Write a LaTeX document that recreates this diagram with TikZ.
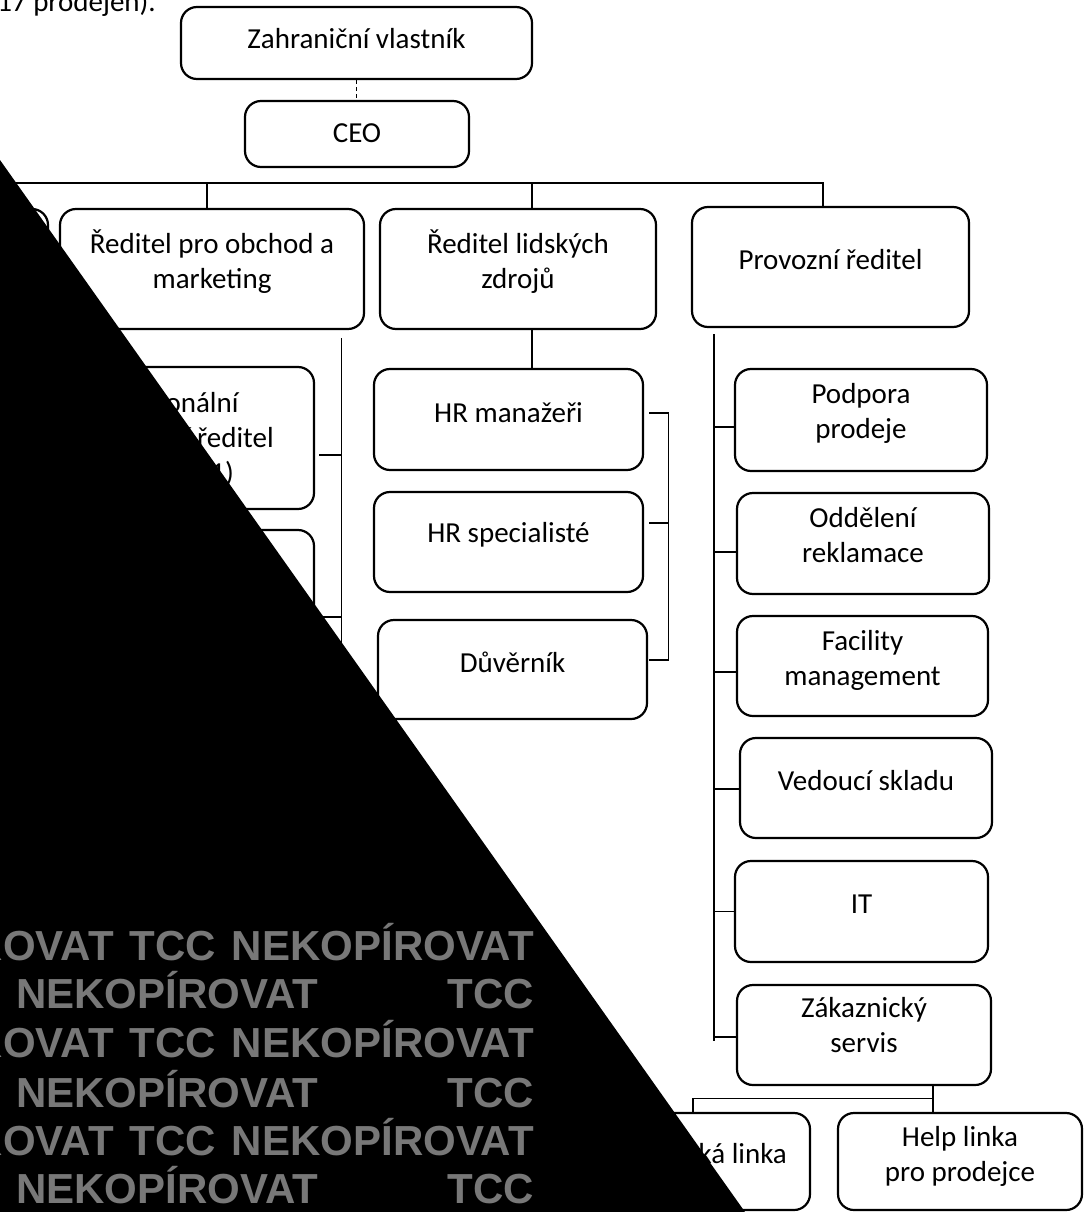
\documentclass[tikz,border=0pt]{standalone}
\usepackage{fontspec}
\setmainfont{Carlito}
\newfontfamily\wmfont{Liberation Sans}
\usetikzlibrary{positioning}
\definecolor{wmgray}{gray}{0.47}

\begin{document}
\begin{tikzpicture}[x=1pt,y=-1pt,
  box/.style={draw=black,rounded corners=16,line width=2.2,inner sep=0},
  txt/.style={align=center,inner sep=0,font=\fontsize{29}{35}\selectfont},
  link/.style={draw=black,line width=1.2},
  wm/.style={text=wmgray,inner sep=0,font=\wmfont\bfseries\fontsize{42}{48}\selectfont}]

\clip (0,0) rectangle (1088,1212);

% top of the chart
\node[txt,anchor=base east] (prev) at (156,12) {17 prodejen).};
\node[box,minimum width=351,minimum height=72,label={[txt,yshift=4]center:Zahraniční vlastník}] (owner) at (356.5,43) {};
\node[box,minimum width=224,minimum height=66,label={[txt,yshift=1]center:CEO}] (ceo) at (357,134) {};
\draw[link,dash pattern=on 4 off 3] (owner.south) -- (owner.south |- ceo.north);

% directors
\node[box,minimum width=308,minimum height=120] (firstdir) at (-106,269) {};
\node[box,minimum width=304,minimum height=120,label={[txt,yshift=7]center:Ředitel pro obchod a\\marketing}] (obdir) at (212,269) {};
\node[box,minimum width=276,minimum height=120,label={[txt,yshift=7]center:Ředitel lidských\\zdrojů}] (hrdir) at (518,269) {};
\node[box,minimum width=277,minimum height=120,label={[txt,yshift=7]center:Provozní ředitel}] (opdir) at (830.5,267) {};

\coordinate (busL) at (0,183);
\draw[link] (busL) -| ([xshift=-7.5]opdir.north);
\draw[link] ([xshift=-5]obdir.north) |- (busL);
\draw[link] ([xshift=14]hrdir.north) |- (busL);

% sales
\node[box,minimum width=274,minimum height=142,label={[txt,yshift=-2]center:Regionální\\obchodní ředitel\\(region 1)}] (reg1) at (177,438) {};
\node[box,minimum width=274,minimum height=142] (reg2) at (177,601) {};
\coordinate (obtop) at ([xshift=-24,yshift=-8]obdir.south east);
\draw[link] (obtop) -- ++(0,380);
\draw[link] ([xshift=4,yshift=-17]reg1.east) -| (obtop);
\draw[link] ([xshift=4,yshift=-16]reg2.east) -| (obtop);

% HR
\node[box,minimum width=269,minimum height=101,label={[txt,yshift=7]center:HR manažeři}] (hrman) at (508.5,419.5) {};
\node[box,minimum width=269,minimum height=100,label={[txt,yshift=7]center:HR specialisté}] (hrspec) at (508.5,542) {};
\node[box,minimum width=269,minimum height=99,label={[txt,yshift=7]center:Důvěrník}] (duvernik) at (512.5,669.5) {};
\draw[link] ([xshift=14]hrdir.south) -- ([xshift=14]hrdir.south |- hrman.north);
\draw[link] ([xshift=5,yshift=6.5]hrman.east) -- ++(19,0) coordinate (hrbr) |- ([xshift=1,yshift=9.5]duvernik.east);
\draw[link] ([xshift=5,yshift=19]hrspec.east) -| (hrbr);

% operations
\node[box,minimum width=252,minimum height=102,label={[txt,yshift=7]center:Podpora\\prodeje}] (podpora) at (861,420) {};
\node[box,minimum width=252,minimum height=101,label={[txt,yshift=8]center:Oddělení\\reklamace}] (reklamace) at (863,543.5) {};
\node[box,minimum width=251,minimum height=100,label={[txt,yshift=6]center:Facility\\management}] (facility) at (862.5,666) {};
\node[box,minimum width=252,minimum height=100,label={[txt,yshift=7]center:Vedoucí skladu}] (sklad) at (866,788) {};
\node[box,minimum width=253,minimum height=101,label={[txt,yshift=7]center:IT}] (it) at (861.5,911.5) {};
\node[box,minimum width=254,minimum height=100,label={[txt,yshift=10]center:Zákaznický\\servis}] (servis) at (864,1035) {};
\coordinate (optop) at ([xshift=23,yshift=-6]opdir.south west);
\draw[link] (optop) -- ++(0,707);
\draw[link] ([yshift=-7]podpora.west) -| (optop);
\draw[link] ([yshift=-8.5]reklamace.west) -| (optop);
\draw[link] ([yshift=-6]facility.west) -| (optop);
\draw[link] ([yshift=-1]sklad.west) -| (optop);
\draw[link] (it.west) -| (optop);
\draw[link] ([yshift=-2]servis.west) -| (optop);

% customer lines
\node[box,minimum width=234,minimum height=97,label={[txt,yshift=7.5]center:Zákaznická linka}] (linka) at (693,1161.5) {};
\node[box,minimum width=244,minimum height=97,label={[txt,yshift=5]center:Help linka\\pro prodejce}] (help) at (960,1161.5) {};
\draw[link] ([xshift=69]servis.south) -- ([xshift=69]servis.south |- help.north);
\draw[link] ([xshift=69,yshift=-12]servis.south) -| (linka.north);

% black cover with watermark
\fill[black] (0,160) -- (745,1212) -- (0,1212) -- cycle;
\node[wm,anchor=base east] (wm1) at (534,960) {NEKOPÍROVAT\hspace{16pt}TCC\hspace{16pt}NEKOPÍROVAT};
\node[wm,anchor=base west] (wm2a) at (16,1008) {NEKOPÍROVAT};
\node[wm,anchor=base east] (wm2b) at (534,1008) {TCC};
\node[wm,anchor=base east] (wm3) at (534,1057) {NEKOPÍROVAT\hspace{16pt}TCC\hspace{16pt}NEKOPÍROVAT};
\node[wm,anchor=base west] (wm4a) at (16,1107) {NEKOPÍROVAT};
\node[wm,anchor=base east] (wm4b) at (534,1107) {TCC};
\node[wm,anchor=base east] (wm5) at (534,1155) {NEKOPÍROVAT\hspace{16pt}TCC\hspace{16pt}NEKOPÍROVAT};
\node[wm,anchor=base west] (wm6a) at (16,1203) {NEKOPÍROVAT};
\node[wm,anchor=base east] (wm6b) at (534,1203) {TCC};

\end{tikzpicture}
\end{document}
